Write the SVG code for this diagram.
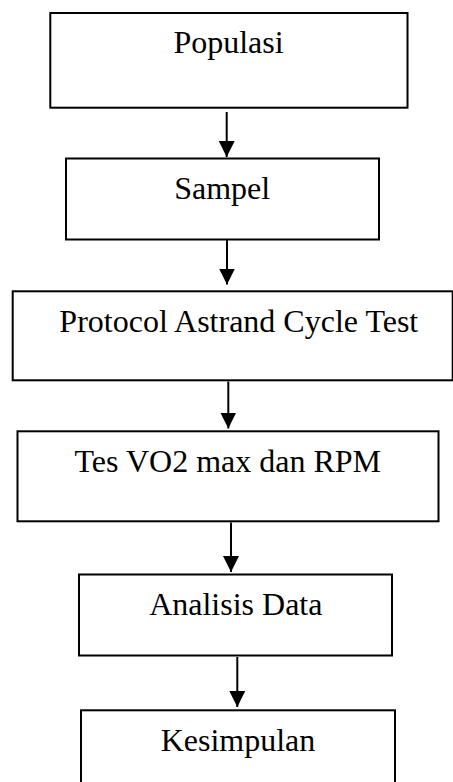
<svg xmlns="http://www.w3.org/2000/svg" width="453" height="782" viewBox="0 0 453 782">
  <style>
    .box { fill: #ffffff; stroke: #000000; stroke-width: 2; }
    .label { font-family: "Liberation Serif", "Times New Roman", serif; font-size: 32px; fill: #000000; text-anchor: middle; }
    .link { stroke: #000000; stroke-width: 2; fill: none; marker-end: url(#arrow); }
  </style>
  <defs>
    <marker id="arrow" markerUnits="userSpaceOnUse" markerWidth="16" markerHeight="16" viewBox="0 0 16 16" refX="16" refY="8" orient="auto">
      <path d="M0,0 L16,8 L0,16 Z" fill="#000000"/>
    </marker>
  </defs>
  <rect width="453" height="782" fill="#ffffff"/>

  <g id="connectors">
    <line class="link" x1="226.7" y1="112" x2="226.7" y2="157"/>
    <line class="link" x1="227" y1="240" x2="227" y2="284.5"/>
    <line class="link" x1="228.3" y1="381.5" x2="228.3" y2="428.5"/>
    <line class="link" x1="231" y1="522.5" x2="231" y2="572"/>
    <line class="link" x1="237.3" y1="657" x2="237.3" y2="707"/>
  </g>

  <g id="populasi">
    <rect class="box" x="50.3" y="13" width="357.2" height="94.7"/>
    <text class="label" x="228.5" y="53.3">Populasi</text>
  </g>

  <g id="sampel">
    <rect class="box" x="66" y="158.5" width="313" height="81"/>
    <text class="label" x="222.2" y="199.3">Sampel</text>
  </g>

  <g id="protocol">
    <rect class="box" x="12.7" y="291.3" width="440" height="89"/>
    <text class="label" x="238.8" y="331.7">Protocol Astrand Cycle Test</text>
  </g>

  <g id="tes-vo2">
    <rect class="box" x="17.5" y="431.3" width="421" height="90"/>
    <text class="label" x="227.8" y="471.7">Tes VO2 max dan RPM</text>
  </g>

  <g id="analisis">
    <rect class="box" x="79" y="574.5" width="313" height="81"/>
    <text class="label" x="235.8" y="615">Analisis Data</text>
  </g>

  <g id="kesimpulan">
    <rect class="box" x="81" y="710.3" width="314" height="85"/>
    <text class="label" x="238" y="751">Kesimpulan</text>
  </g>
</svg>
